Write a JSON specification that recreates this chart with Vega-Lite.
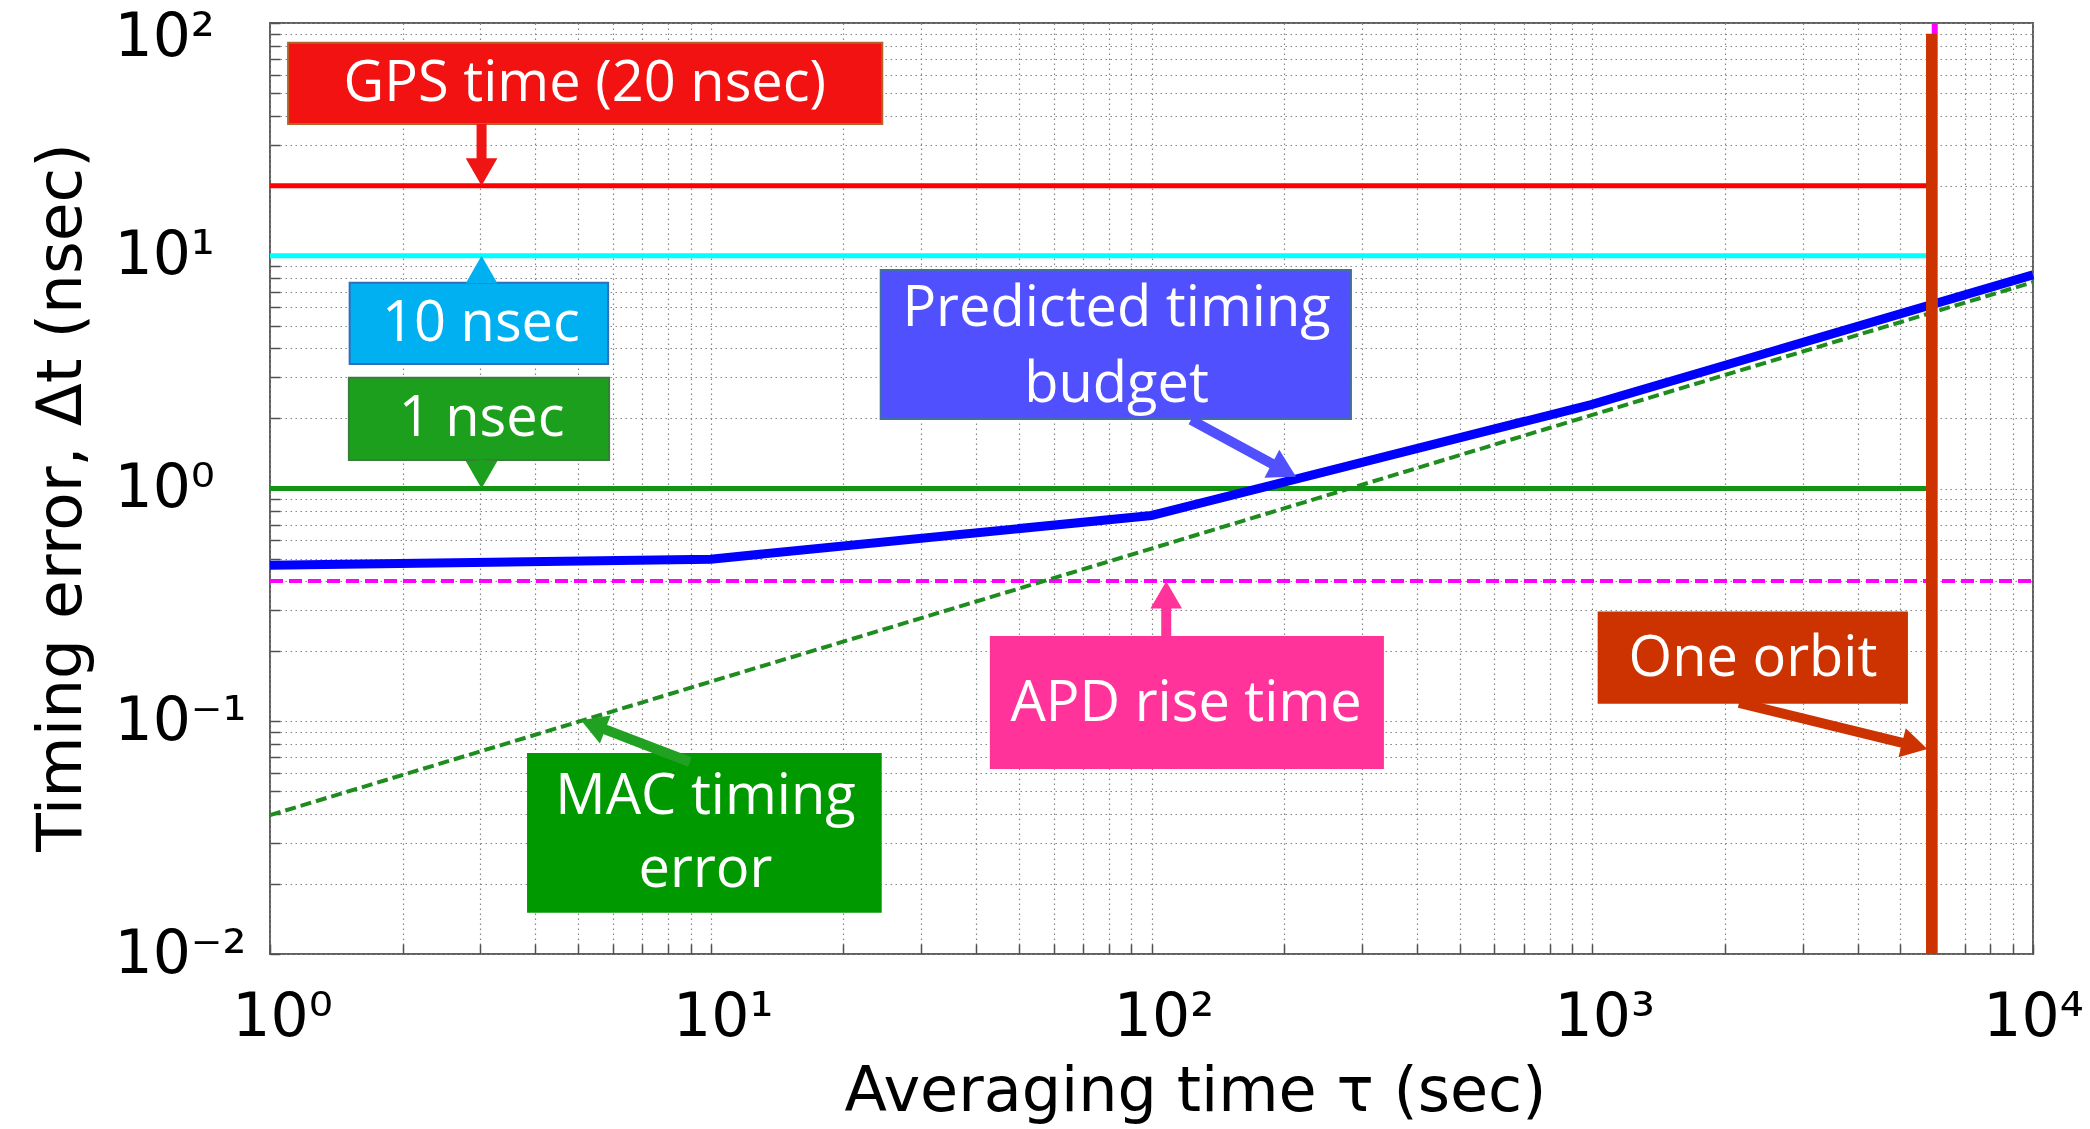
{
  "$schema": "https://vega.github.io/schema/vega-lite/v6.json",
  "width": 1763,
  "height": 931,
  "autosize": {"type": "none"},
  "padding": {"left": 270, "top": 23, "right": 57, "bottom": 175},
  "background": "white",
  "config": {"view": {"stroke": "#606060", "strokeWidth": 2}},
  "datasets": {
    "levels": [
      {"k": "GPS", "x": 1, "x2": 5885, "y": 20},
      {"k": "10 nsec", "x": 1, "x2": 5885, "y": 10},
      {"k": "1 nsec", "x": 1, "x2": 5885, "y": 1}
    ],
    "apd": [{"x": 1, "x2": 10000, "y": 0.4}],
    "budget": [
      {"x": 1, "y": 0.468},
      {"x": 10, "y": 0.497},
      {"x": 100, "y": 0.766},
      {"x": 1000, "y": 2.3},
      {"x": 10000, "y": 8.28}
    ],
    "mac": [
      {"x": 1, "y": 0.0395},
      {"x": 10, "y": 0.148},
      {"x": 100, "y": 0.552},
      {"x": 1000, "y": 2.07},
      {"x": 10000, "y": 7.7}
    ],
    "orbitpink": [{"x": 5985, "y": 0.01, "y2": 100}],
    "orbit": [{"x": 5885, "y": 0.01, "y2": 90}],
    "boxes": [
      {"k": "GPS", "x": 1.099, "x2": 24.5, "y": 82.3, "y2": 36.8},
      {"k": "10 nsec", "x": 1.516, "x2": 5.85, "y": 7.66, "y2": 3.43},
      {"k": "1 nsec", "x": 1.51, "x2": 5.88, "y": 2.99, "y2": 1.326},
      {"k": "Predicted", "x": 24.3, "x2": 283.5, "y": 8.69, "y2": 1.99},
      {"k": "APD", "x": 43.2, "x2": 335, "y": 0.23, "y2": 0.063},
      {"k": "MAC", "x": 3.85, "x2": 24.3, "y": 0.0723, "y2": 0.0152},
      {"k": "Orbit", "x": 1034, "x2": 5176, "y": 0.2934, "y2": 0.12}
    ],
    "shafts": [
      {"k": "GPS", "x": 3.02, "x2": 3.02, "y": 36.8, "y2": 22.9},
      {"k": "10 nsec", "x": 3.02, "x2": 3.02, "y": 7.66, "y2": 8.73},
      {"k": "1 nsec", "x": 3.02, "x2": 3.02, "y": 1.326, "y2": 1.146},
      {"k": "Predicted", "x": 122.9, "x2": 199.8, "y": 1.97, "y2": 1.198},
      {"k": "APD", "x": 108, "x2": 108, "y": 0.23, "y2": 0.349},
      {"k": "MAC", "x": 8.97, "x2": 5.41, "y": 0.0668, "y2": 0.0965},
      {"k": "Orbit", "x": 2153, "x2": 5391, "y": 0.12, "y2": 0.0784}
    ],
    "heads": [
      {"k": "GPS", "x": 3.02, "y": 22.9},
      {"k": "10 nsec", "x": 3.02, "y": 8.73},
      {"k": "1 nsec", "x": 3.02, "y": 1.146},
      {"k": "Predicted", "x": 199.8, "y": 1.198},
      {"k": "APD", "x": 108, "y": 0.349},
      {"k": "MAC", "x": 5.41, "y": 0.0965},
      {"k": "Orbit", "x": 5391, "y": 0.0784}
    ],
    "labels": [
      {"x": 5.18, "y": 54.7, "text": "GPS time (20 nsec)"},
      {"x": 3.01, "y": 5.11, "text": "10 nsec"},
      {"x": 3.02, "y": 1.98, "text": "1 nsec"},
      {"x": 83.3, "y": 5.9, "text": "Predicted timing"},
      {"x": 83.3, "y": 2.79, "text": "budget"},
      {"x": 119.8, "y": 0.1186, "text": "APD rise time"},
      {"x": 9.73, "y": 0.0473, "text": "MAC timing"},
      {"x": 9.73, "y": 0.023, "text": "error"},
      {"x": 2316, "y": 0.186, "text": "One orbit"}
    ]
  },
  "encoding": {
    "x": {
      "field": "x", "type": "quantitative",
      "scale": {"type": "log", "domain": [1, 10000], "nice": false},
      "axis": {
        "values": [1,2,3,4,5,6,7,8,9,10,20,30,40,50,60,70,80,90,100,200,300,400,500,600,700,800,900,1000,2000,3000,4000,5000,6000,7000,8000,9000,10000],
        "labelExpr": "datum.value == 1 ? '10⁰' : datum.value == 10 ? '10¹' : datum.value == 100 ? '10²' : datum.value == 1000 ? '10³' : datum.value == 10000 ? '10⁴' : ''",
        "labelOverlap": false, "labelFlush": false, "labelBound": false,
        "labelFont": "DejaVu Sans", "labelFontSize": 60, "labelColor": "#000000",
        "labelBaseline": "top", "labelPadding": 44,
        "labelOffset": {"condition": {"test": "datum.value == 10000", "value": 0}, "value": 12},
        "grid": true, "gridDash": [1.5, 3.5], "gridColor": "#858585", "gridWidth": 1.2,
        "domain": false, "ticks": true, "tickSize": -10, "tickColor": "#505050", "tickWidth": 1.5,
        "title": "Averaging time  τ (sec)",
        "titleFont": "DejaVu Sans", "titleFontSize": 62, "titleFontWeight": "normal", "titleColor": "#000000",
        "titleX": 925, "titleY": 156, "titleBaseline": "alphabetic", "titleAlign": "center"
      }
    },
    "y": {
      "field": "y", "type": "quantitative",
      "scale": {"type": "log", "domain": [0.01, 100], "nice": false},
      "axis": {
        "values": [0.01,0.02,0.03,0.04,0.05,0.06,0.07,0.08,0.09,0.1,0.2,0.3,0.4,0.5,0.6,0.7,0.8,0.9,1,2,3,4,5,6,7,8,9,10,20,30,40,50,60,70,80,90,100],
        "labelExpr": "datum.value == 0.01 ? '10⁻²' : datum.value == 0.1 ? '10⁻¹' : datum.value == 1 ? '10⁰' : datum.value == 10 ? '10¹' : datum.value == 100 ? '10²' : ''",
        "labelOverlap": false, "labelFlush": false, "labelBound": false,
        "labelFont": "DejaVu Sans", "labelFontSize": 60, "labelColor": "#000000",
        "labelAlign": "left", "labelBaseline": "middle", "labelPadding": 166,
        "labelOffset": {"condition": {"test": "datum.value == 100", "value": 14}, "value": 0},
        "grid": true, "gridDash": [1.5, 3.5], "gridColor": "#858585", "gridWidth": 1.2,
        "domain": false, "ticks": true, "tickSize": -10, "tickColor": "#505050", "tickWidth": 1.5,
        "title": "Timing error, Δt (nsec)",
        "titleFont": "DejaVu Sans", "titleFontSize": 63, "titleFontWeight": "normal", "titleColor": "#000000",
        "titleAngle": -90, "titleX": -190, "titleY": 474, "titleBaseline": "alphabetic", "titleAlign": "center"
      }
    }
  },
  "resolve": {"scale": {"color": "independent", "stroke": "independent"}},
  "layer": [
    {
      "data": {"name": "levels"},
      "mark": {"type": "rule", "strokeWidth": 5},
      "encoding": {
        "x2": {"field": "x2"},
        "color": {"field": "k", "type": "nominal", "legend": null,
          "scale": {"domain": ["GPS", "10 nsec", "1 nsec"], "range": ["#FF0000", "#00FFFF", "#149414"]}}
      }
    },
    {
      "data": {"name": "apd"},
      "mark": {"type": "rule", "color": "#FF00FF", "strokeWidth": 4, "strokeDash": [13, 6]},
      "encoding": {"x2": {"field": "x2"}}
    },
    {
      "data": {"name": "mac"},
      "mark": {"type": "line", "color": "#1E8C1E", "strokeWidth": 4, "strokeDash": [11, 5]},
      "encoding": {}
    },
    {
      "data": {"name": "budget"},
      "mark": {"type": "line", "color": "#0000FF", "strokeWidth": 9},
      "encoding": {}
    },
    {
      "data": {"name": "orbitpink"},
      "mark": {"type": "rule", "color": "#FF00FF", "strokeWidth": 6},
      "encoding": {"y2": {"field": "y2"}}
    },
    {
      "data": {"name": "orbit"},
      "mark": {"type": "rule", "color": "#CC3300", "strokeWidth": 11},
      "encoding": {"y2": {"field": "y2"}}
    },
    {
      "data": {"name": "boxes"},
      "mark": {"type": "rect", "strokeWidth": 2},
      "encoding": {
        "x2": {"field": "x2"},
        "y2": {"field": "y2"},
        "color": {"field": "k", "type": "nominal", "legend": null,
          "scale": {"domain": ["GPS", "10 nsec", "1 nsec", "Predicted", "APD", "MAC", "Orbit"],
                    "range": ["#F31212", "#00B0F0", "#1C9F1C", "#5050FF", "#FF3399", "#009900", "#CC3300"]}},
        "stroke": {"field": "k", "type": "nominal", "legend": null,
          "scale": {"domain": ["GPS", "10 nsec", "1 nsec", "Predicted", "APD", "MAC", "Orbit"],
                    "range": ["#B4652C", "#2F6EBA", "#3A7D3A", "#41719C", "#FF3399", "#009900", "#CC3300"]}}
      }
    },
    {
      "data": {"name": "shafts"},
      "mark": {"type": "rule", "strokeWidth": 10},
      "encoding": {
        "x2": {"field": "x2"},
        "y2": {"field": "y2"},
        "color": {"field": "k", "type": "nominal", "legend": null,
          "scale": {"domain": ["GPS", "10 nsec", "1 nsec", "Predicted", "APD", "MAC", "Orbit"],
                    "range": ["#F01515", "#00B0F0", "#1C9F1C", "#5050FF", "#FF3399", "#22A022", "#CC3300"]}}
      }
    },
    {
      "data": {"name": "heads"},
      "transform": [{"filter": "datum.k == 'GPS' || datum.k == '1 nsec'"}],
      "mark": {"type": "point", "shape": "triangle-down", "filled": true, "size": 1000, "opacity": 1},
      "encoding": {
        "color": {"field": "k", "type": "nominal", "legend": null,
          "scale": {"domain": ["GPS", "1 nsec"], "range": ["#F01515", "#1C9F1C"]}}
      }
    },
    {
      "data": {"name": "heads"},
      "transform": [{"filter": "datum.k == '10 nsec' || datum.k == 'APD'"}],
      "mark": {"type": "point", "shape": "triangle-up", "filled": true, "size": 1000, "opacity": 1},
      "encoding": {
        "color": {"field": "k", "type": "nominal", "legend": null,
          "scale": {"domain": ["10 nsec", "APD"], "range": ["#00B0F0", "#FF3399"]}}
      }
    },
    {
      "data": {"name": "heads"},
      "transform": [{"filter": "datum.k == 'Predicted'"}],
      "mark": {"type": "point", "shape": "triangle-up", "filled": true, "size": 1000, "opacity": 1, "angle": 118, "color": "#5050FF"},
      "encoding": {}
    },
    {
      "data": {"name": "heads"},
      "transform": [{"filter": "datum.k == 'MAC'"}],
      "mark": {"type": "point", "shape": "triangle-up", "filled": true, "size": 900, "opacity": 1, "angle": 291, "color": "#22A022"},
      "encoding": {}
    },
    {
      "data": {"name": "heads"},
      "transform": [{"filter": "datum.k == 'Orbit'"}],
      "mark": {"type": "point", "shape": "triangle-up", "filled": true, "size": 900, "opacity": 1, "angle": 104, "color": "#CC3300"},
      "encoding": {}
    },
    {
      "data": {"name": "labels"},
      "mark": {"type": "text", "font": "Open Sans", "fontSize": 56, "color": "#FFFFFF", "align": "center", "baseline": "middle"},
      "encoding": {
        "text": {"field": "text", "type": "nominal"}
      }
    }
  ]
}
